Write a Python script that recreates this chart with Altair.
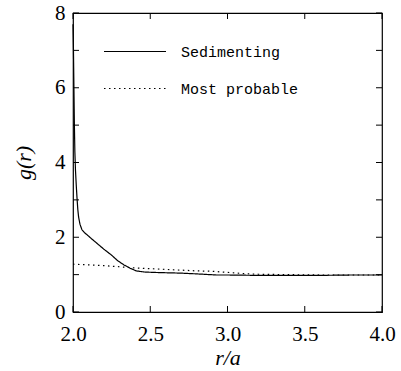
import altair as alt
import pandas as pd

# Sedimenting g(r)
sed_r = [2.000, 2.003, 2.006, 2.009, 2.012, 2.016, 2.021, 2.026, 2.031, 2.036,
         2.045, 2.058, 2.075, 2.09, 2.12, 2.16, 2.20, 2.25, 2.29, 2.33,
         2.37, 2.41, 2.46, 2.52, 2.60, 2.70, 2.80, 2.93, 3.0, 3.2,
         3.4, 3.6, 3.8, 4.0]
sed_g = [7.7, 7.0, 6.0, 5.0, 4.3, 3.8, 3.4, 3.05, 2.75, 2.55,
         2.35, 2.2, 2.12, 2.07, 1.96, 1.82, 1.68, 1.52, 1.37, 1.26,
         1.17, 1.10, 1.07, 1.06, 1.05, 1.04, 1.02, 0.99, 0.99, 0.98,
         0.98, 0.98, 0.99, 0.99]

# Most probable g(r)
mp_r = [2.0, 2.1, 2.2, 2.3, 2.4, 2.5, 2.6, 2.7, 2.8, 2.9, 3.0, 3.1, 3.2, 3.4, 3.6, 3.8, 4.0]
mp_g = [1.28, 1.26, 1.24, 1.21, 1.18, 1.16, 1.14, 1.12, 1.10, 1.09, 1.06, 1.03, 1.01, 1.0, 0.99, 0.99, 0.99]

series_names = ["Sedimenting", "Most probable"]
x_ticks = [2.0, 2.5, 3.0, 3.5, 4.0]
y_ticks = [0, 1, 2, 3, 4, 5, 6, 7, 8]
y_labels = [0, 2, 4, 6, 8]

df = pd.concat([
    pd.DataFrame({"r": sed_r, "g": sed_g, "series": series_names[0]}),
    pd.DataFrame({"r": mp_r, "g": mp_g, "series": series_names[1]}),
])
xt = pd.DataFrame({"r": x_ticks})
yt = pd.DataFrame({"g": y_ticks})

W, H = 309, 299
TL = 6
SERIF = "Liberation Serif"
MONO = "Liberation Mono"

xscale = alt.Scale(domain=[2, 4], nice=False, zero=False)
yscale = alt.Scale(domain=[0, 8], nice=False)

xaxis = alt.Axis(values=x_ticks, format=".1f", ticks=False, grid=False, domain=False,
                 labelFlush=False, labelOverlap=False,
                 title="r/a", labelFont=SERIF, labelFontSize=21, labelColor="black",
                 labelPadding=11, titleFont=SERIF, titleFontStyle="italic",
                 titleFontWeight="normal", titleFontSize=22, titleColor="black", titlePadding=3)
yaxis = alt.Axis(values=y_labels, format="d", ticks=False, grid=False, domain=False,
                 labelFlush=False, labelOverlap=False,
                 title="g(r)", labelFont=SERIF, labelFontSize=21, labelColor="black",
                 labelPadding=8, titleFont=SERIF, titleFontStyle="italic",
                 titleFontWeight="normal", titleFontSize=22, titleColor="black", titlePadding=19)

lines = alt.Chart(df).mark_line(strokeWidth=1.2, color="black").encode(
    x=alt.X("r:Q", scale=xscale, axis=xaxis),
    y=alt.Y("g:Q", scale=yscale, axis=yaxis),
    strokeDash=alt.StrokeDash("series:N",
        scale=alt.Scale(domain=series_names, range=[[1, 0], [1.5, 3.5]]),
        legend=alt.Legend(title=None, orient="none", legendX=30, legendY=20,
                          symbolType="stroke", symbolSize=3844, symbolStrokeColor="black",
                          symbolStrokeWidth=1.2, labelFont=MONO, labelFontSize=15,
                          labelColor="black", labelOffset=14, clipHeight=37, rowPadding=0)),
    detail="series:N",
)

bt = alt.Chart(xt).mark_rule(color="black").encode(x="r:Q", y=alt.value(H), y2=alt.value(H - TL))
tt = alt.Chart(xt).mark_rule(color="black").encode(x="r:Q", y=alt.value(0), y2=alt.value(TL))
lt = alt.Chart(yt).mark_rule(color="black").encode(y="g:Q", x=alt.value(0), x2=alt.value(TL))
rt = alt.Chart(yt).mark_rule(color="black").encode(y="g:Q", x=alt.value(W - TL), x2=alt.value(W))

chart = alt.layer(lines, bt, tt, lt, rt).properties(
    width=W, height=H,
    autosize=alt.AutoSizeParams(type="none"),
    padding={"left": 73, "top": 13, "right": 19, "bottom": 59},
    background="white",
).configure_view(stroke="black", strokeWidth=1.2)

chart.save("out.html", embed_options={"renderer": "svg", "actions": False})
